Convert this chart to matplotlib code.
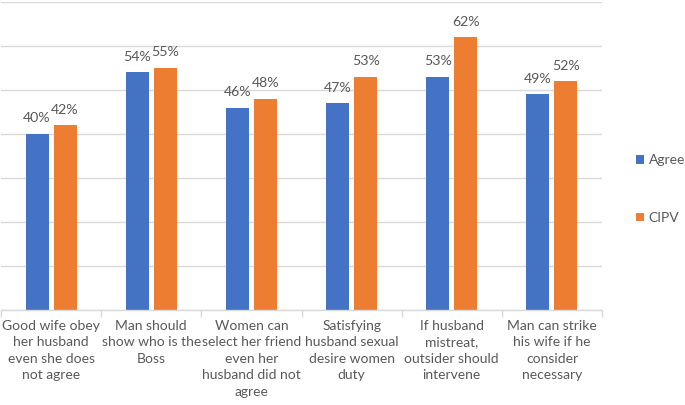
import numpy as np
import matplotlib.pyplot as plt

plt.rcParams['font.family'] = ['Lato', 'DejaVu Sans']

categories = [
    "Good wife obey\nher husband\neven she does\nnot agree",
    "Man should\nshow who is the\nBoss",
    "Women can\nselect her friend\neven her\nhusband did not\nagree",
    "Satisfying\nhusband sexual\ndesire women\nduty",
    "If husband\nmistreat,\noutsider should\nintervene",
    "Man can strike\nhis wife if he\nconsider\nnecessary",
]
agree = [40, 54, 46, 47, 53, 49]
cipv = [42, 55, 48, 53, 62, 52]

blue = "#4472C4"
orange = "#ED7D31"
txt = "#595959"
grid = "#D9D9D9"

fig = plt.figure(figsize=(6.85, 4.05), dpi=100)
ax = fig.add_axes([0.0015, 1 - 310 / 405, 601 / 685, 308 / 405])

x = np.arange(len(categories))
w = 0.23
b1 = ax.bar(x - 0.14, agree, w, color=blue, label="Agree")
b2 = ax.bar(x + 0.14, cipv, w, color=orange, label="CIPV")

for bars, vals in ((b1, agree), (b2, cipv)):
    for r, v in zip(bars, vals):
        ax.text(r.get_x() + r.get_width() / 2, v + 2.2, f"{v}%",
                ha="center", va="bottom", fontsize=10.2, color=txt)

ax.set_xlim(-0.5, len(categories) - 0.5)
ax.set_ylim(0, 70)
ax.set_yticks(np.arange(0, 71, 10))
ax.yaxis.grid(True, color=grid, linewidth=1)
ax.set_axisbelow(True)
ax.tick_params(axis="y", left=False, labelleft=False)

for s in ("top", "right", "left"):
    ax.spines[s].set_visible(False)
ax.spines["bottom"].set_color(grid)
ax.spines["bottom"].set_linewidth(1)

ax.set_xticks(x)
ax.set_xticklabels(categories, fontsize=10, color=txt, linespacing=1.45)
ax.tick_params(axis="x", length=0, pad=7)
ax.set_xticks(np.arange(-0.5, len(categories)), minor=True)
ax.tick_params(axis="x", which="minor", length=5, color=grid, width=1)

leg = fig.legend(handles=[b1, b2], loc="center left",
                 bbox_to_anchor=(636 / 685, 1 - 189 / 405),
                 frameon=False, fontsize=10, labelcolor=txt,
                 borderaxespad=0, borderpad=0,
                 handlelength=0.6, handleheight=0.6, handletextpad=0.3,
                 labelspacing=3.3)

fig.savefig("out.png", dpi=100)
